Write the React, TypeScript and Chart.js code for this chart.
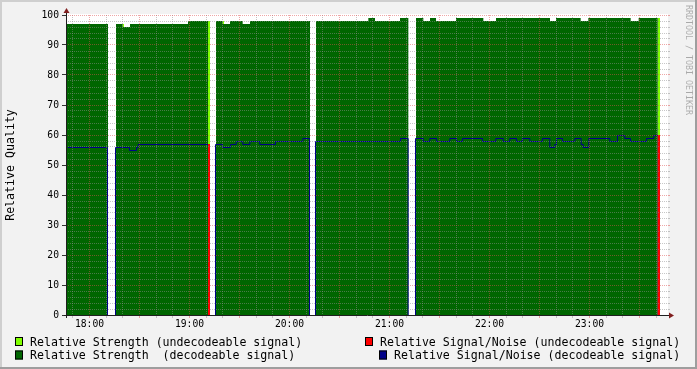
import React, { useEffect, useRef } from "react";
import { Chart, registerables } from "chart.js";

Chart.register(...registerables);

// x values are minutes after 18:00
const X_MIN = -13.5;
const X_MAX = 346.5;
const hourTicks = [0, 60, 120, 180, 240, 300];
const hourLabels = ["18:00", "19:00", "20:00", "21:00", "22:00", "23:00"];
const Y_MIN = 0;
const Y_MAX = 100;

const seriesLabels = [
  "Relative Strength (undecodeable signal)",
  "Relative Signal/Noise (undecodeable signal)",
  "Relative Strength  (decodeable signal)",
  "Relative Signal/Noise (decodeable signal)",
];

// Relative Strength (decodeable) — step changes
const strengthDecTimes = [-13.5, 11.1, 15.9, 19.9, 24.3, 59.1, 71.1, 75.9, 79.9, 84.3, 91.9, 96.3, 132.3, 135.9, 167.3, 171.3, 186.3, 191.3, 195.9, 200.3, 204.3, 207.9, 219.9, 236.3, 243.9, 276.3, 279.9, 294.7, 299.3, 324.7, 329.5, 340.9];
const strengthDecValues = [97, 0, 97, 96, 97, 98, 0, 98, 97, 98, 97, 98, 0, 98, 99, 98, 99, 0, 99, 98, 99, 98, 99, 98, 99, 98, 99, 98, 99, 98, 99, 0];

// Relative Strength (undecodeable)
const strengthUndTimes = [-13.5, 19.9, 20.7, 71.1, 72.3, 79.9, 80.7, 340.9, 342.3];
const strengthUndValues = [0, 97, 0, 98, 0, 98, 0, 99, 0];

// Relative Signal/Noise (undecodeable)
const snUndTimes = [-13.5, 71.1, 72.3, 340.9, 342.3];
const snUndValues = [0, 57, 0, 60, 0];

// Relative Signal/Noise (decodeable)
const snDecTimes = [-13.5, 10.5, 15.3, 23.7, 27.9, 28.9, 71.1, 75.3, 79.5, 84.3, 87.7, 91.7, 95.9, 101.9, 111.3, 127.7, 131.7, 135.3, 186.3, 190.9, 195.3, 199.9, 203.9, 207.9, 215.9, 219.9, 223.5, 235.5, 243.5, 247.9, 251.9, 255.9, 259.5, 263.9, 271.5, 275.9, 278.9, 279.9, 283.5, 290.9, 294.7, 295.9, 299.3, 311.9, 316.5, 320.9, 324.3, 333.9, 338.3, 340.9];
const snDecValues = [56, 0, 56, 55, 56, 57, 0, 57, 56, 57, 58, 57, 58, 57, 58, 59, 0, 58, 59, 0, 59, 58, 59, 58, 59, 58, 59, 58, 59, 58, 59, 58, 59, 58, 59, 56, 57, 59, 58, 59, 57, 56, 59, 58, 60, 59, 58, 59, 60, 0];

const COL_LIME = "#80ff00";
const COL_RED = "#ff0000";
const COL_DGREEN = "#006600";
const COL_NAVY = "#000088";

const FONT = "'DejaVu Sans Mono', monospace";

function toPoints(times: number[], values: number[]) {
  const pts = times.map((t, i) => ({ x: t, y: values[i] }));
  pts.push({ x: X_MAX, y: values[values.length - 1] });
  return pts;
}

const rrdPlugin = {
  id: "rrdDecor",
  beforeDraw(chart: any) {
    const { ctx, width, height } = chart;
    const { left, right, top, bottom } = chart.chartArea;
    ctx.save();
    ctx.fillStyle = "#f2f2f2";
    ctx.fillRect(0, 0, width, height);
    ctx.fillStyle = "#cfcfcf";
    ctx.fillRect(0, 0, width, 2);
    ctx.fillRect(0, 0, 2, height);
    ctx.fillStyle = "#9e9e9e";
    ctx.fillRect(0, height - 2, width, 2);
    ctx.fillRect(width - 2, 0, 2, height);
    ctx.fillStyle = "#ffffff";
    ctx.fillRect(left, top - 1, right - left + 1, bottom - top + 1);
    ctx.restore();
  },
  beforeDatasetDraw(chart: any, args: any) {
    if (chart.data.datasets[args.index].label === seriesLabels[3]) {
      chart.ctx.save();
      chart.ctx.translate(0.5, 0.5);
    }
  },
  afterDatasetDraw(chart: any, args: any) {
    if (chart.data.datasets[args.index].label === seriesLabels[3]) {
      chart.ctx.restore();
    }
  },
  afterDatasetsDraw(chart: any) {
    const { ctx } = chart;
    const xs = chart.scales.x;
    const ys = chart.scales.y;
    const { left, right, top, bottom } = chart.chartArea;
    const px = (v: number) => Math.floor(xs.getPixelForValue(v)) + 0.5;
    const py = (v: number) => Math.floor(ys.getPixelForValue(v)) + 0.5;
    const minorCol = "rgba(143,143,143,0.5)";
    const majorCol = "rgba(222,79,79,0.5)";
    ctx.save();
    ctx.lineWidth = 1;
    // minor grid
    ctx.setLineDash([1, 1]);
    ctx.strokeStyle = minorCol;
    ctx.beginPath();
    for (let v = Y_MIN + 2; v <= Y_MAX; v += 2) {
      if (v % 10 === 0) continue;
      const y = py(v);
      ctx.moveTo(left - 1, y);
      ctx.lineTo(right + 1, y);
    }
    for (let t = -10; t <= X_MAX; t += 10) {
      if (((t % 30) + 30) % 30 === 0) continue;
      const x = px(t);
      ctx.moveTo(x, bottom + 1);
      ctx.lineTo(x, top - 1);
    }
    ctx.stroke();
    // major grid
    ctx.strokeStyle = majorCol;
    ctx.beginPath();
    for (let v = Y_MIN + 10; v <= Y_MAX; v += 10) {
      const y = py(v);
      ctx.moveTo(left - 1, y);
      ctx.lineTo(right + 1, y);
    }
    for (let t = -30; t <= X_MAX; t += 30) {
      if (t < X_MIN) continue;
      const x = px(t);
      ctx.moveTo(x, bottom + 1);
      ctx.lineTo(x, top - 1);
    }
    ctx.stroke();
    ctx.setLineDash([]);
    // small solid ticks outside the plot
    ctx.strokeStyle = minorCol;
    ctx.beginPath();
    for (let v = Y_MIN + 2; v <= Y_MAX; v += 2) {
      if (v % 10 === 0) continue;
      const y = py(v);
      ctx.moveTo(right + 1, y);
      ctx.lineTo(right + 3, y);
    }
    for (let t = -10; t <= X_MAX; t += 10) {
      if (((t % 30) + 30) % 30 === 0) continue;
      const x = px(t);
      ctx.moveTo(x, bottom + 1);
      ctx.lineTo(x, bottom + 3);
    }
    ctx.stroke();
    ctx.strokeStyle = majorCol;
    ctx.beginPath();
    for (let v = Y_MIN + 10; v <= Y_MAX; v += 10) {
      const y = py(v);
      ctx.moveTo(right + 1, y);
      ctx.lineTo(right + 3, y);
    }
    for (let t = -30; t <= X_MAX; t += 30) {
      if (t < X_MIN) continue;
      const x = px(t);
      ctx.moveTo(x, bottom + 1);
      ctx.lineTo(x, bottom + 3);
    }
    ctx.stroke();
    // y major ticks (left)
    ctx.strokeStyle = "#333333";
    ctx.beginPath();
    for (let v = Y_MIN; v <= Y_MAX; v += 10) {
      const y = py(v);
      ctx.moveTo(left - 5, y);
      ctx.lineTo(left - 1, y);
    }
    ctx.stroke();
    // axes
    ctx.strokeStyle = "rgb(31,31,31)";
    ctx.beginPath();
    const ax = left - 0.5;
    const ay = bottom + 0.5;
    ctx.moveTo(ax, bottom + 3);
    ctx.lineTo(ax, top - 5);
    ctx.moveTo(left - 3, ay);
    ctx.lineTo(right + 4, ay);
    ctx.stroke();
    // arrows
    ctx.fillStyle = "rgb(128,31,31)";
    ctx.beginPath();
    ctx.moveTo(ax, top - 7);
    ctx.lineTo(ax - 3, top - 2);
    ctx.lineTo(ax + 3, top - 2);
    ctx.closePath();
    ctx.fill();
    ctx.beginPath();
    ctx.moveTo(right + 7, ay);
    ctx.lineTo(right + 2, ay - 3);
    ctx.lineTo(right + 2, ay + 3);
    ctx.closePath();
    ctx.fill();
    ctx.restore();
  },
  afterDraw(chart: any) {
    const { ctx } = chart;
    const ds = chart.data.datasets;
    const find = (lbl: string) => ds.find((d: any) => d.label === lbl);
    const items = [
      { d: find(seriesLabels[0]), bx: 15, tx: 30, base: 345.5 },
      { d: find(seriesLabels[1]), bx: 365, tx: 380, base: 345.5 },
      { d: find(seriesLabels[2]), bx: 15, tx: 30, base: 359 },
      { d: find(seriesLabels[3]), bx: 379, tx: 394, base: 359 },
    ];
    ctx.save();
    ctx.font = `11.6px ${FONT}`;
    ctx.textBaseline = "alphabetic";
    ctx.textAlign = "left";
    for (const it of items) {
      const col = it.d.legendColor;
      ctx.fillStyle = col;
      ctx.fillRect(it.bx, it.base - 8.5, 8, 9);
      ctx.strokeStyle = "#000";
      ctx.lineWidth = 1;
      ctx.strokeRect(it.bx + 0.5, it.base - 8, 7, 8);
      ctx.fillStyle = "#000";
      ctx.fillText(it.d.label, it.tx, it.base);
    }
    // y axis title
    ctx.save();
    ctx.translate(11, (chart.chartArea.top + chart.chartArea.bottom) / 2);
    ctx.rotate(-Math.PI / 2);
    ctx.textAlign = "center";
    ctx.textBaseline = "middle";
    ctx.fillStyle = "#000";
    ctx.font = `11.6px ${FONT}`;
    ctx.fillText("Relative Quality", 0, 0);
    ctx.restore();
    // watermark
    ctx.save();
    ctx.translate(688, 60);
    ctx.rotate(Math.PI / 2);
    ctx.textAlign = "center";
    ctx.textBaseline = "middle";
    ctx.fillStyle = "rgba(0,0,0,0.3)";
    ctx.font = `8.3px ${FONT}`;
    ctx.fillText("RRDTOOL / TOBI OETIKER", 0, 0);
    ctx.restore();
    ctx.restore();
  },
};

export default function App() {
  const ref = useRef<HTMLCanvasElement | null>(null);
  useEffect(() => {
    if (!ref.current) return;
    const area = (label: string, pts: any[], color: string, order: number) => ({
      label,
      data: pts,
      stepped: "before" as const,
      fill: "origin",
      backgroundColor: color,
      legendColor: color,
      borderColor: "rgba(0,0,0,0)",
      borderWidth: 0,
      pointRadius: 0,
      order,
    });
    const chart = new Chart(ref.current, {
      type: "line",
      data: {
        datasets: [
          area(seriesLabels[0], toPoints(strengthUndTimes, strengthUndValues), COL_LIME, 5),
          area(seriesLabels[1], toPoints(snUndTimes, snUndValues), COL_RED, 1),
          area(seriesLabels[2], toPoints(strengthDecTimes, strengthDecValues), COL_DGREEN, 4),
          {
            label: seriesLabels[3],
            data: toPoints(snDecTimes, snDecValues),
            stepped: "before" as const,
            fill: false,
            borderColor: COL_NAVY,
            legendColor: COL_NAVY,
            backgroundColor: COL_NAVY,
            borderWidth: 1,
            pointRadius: 0,
            order: 2,
          } as any,
        ],
      },
      options: {
        responsive: false,
        animation: false,
        events: [],
        layout: { padding: { left: 0, top: 15, right: 30, bottom: 0 } },
        plugins: { legend: { display: false }, tooltip: { enabled: false } },
        scales: {
          x: {
            type: "linear",
            min: X_MIN,
            max: X_MAX,
            grid: { display: false, drawTicks: false },
            border: { display: false },
            afterBuildTicks: (scale: any) => {
              scale.ticks = hourTicks.map((v) => ({ value: v }));
            },
            afterFit: (scale: any) => {
              scale.height = 54;
            },
            ticks: {
              autoSkip: false,
              maxRotation: 0,
              minRotation: 0,
              padding: 4,
              color: "#000",
              font: { family: FONT, size: 9.7 },
              callback: (v: any) => {
                const i = hourTicks.indexOf(Number(v));
                return i >= 0 ? hourLabels[i] : "";
              },
            },
          },
          y: {
            type: "linear",
            min: Y_MIN,
            max: Y_MAX,
            grid: { display: false, drawTicks: false },
            border: { display: false },
            afterFit: (scale: any) => {
              scale.width = 67;
            },
            ticks: {
              stepSize: 10,
              padding: 8,
              color: "#000",
              font: { family: FONT, size: 9.7 },
            },
          },
        },
      } as any,
      plugins: [rrdPlugin],
    });
    return () => chart.destroy();
  }, []);
  return (
    <div style={{ position: "fixed", left: 0, top: 0, width: 697, height: 369 }}>
      <canvas ref={ref} width={697} height={369} style={{ display: "block", width: 697, height: 369 }} />
    </div>
  );
}
